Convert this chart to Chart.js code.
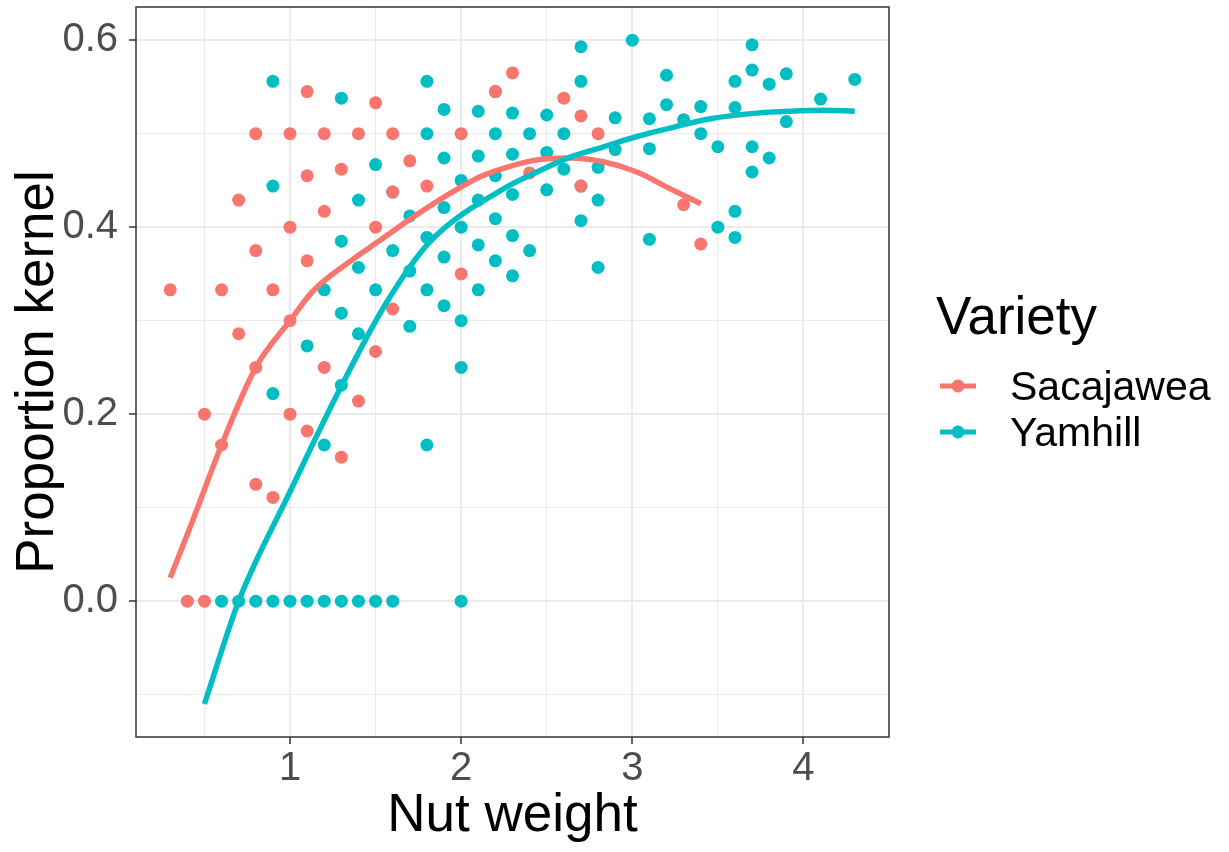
<!DOCTYPE html>
<html>
<head>
<meta charset="utf-8">
<script src="https://cdn.jsdelivr.net/npm/chart.js@4.4.1/dist/chart.umd.min.js"></script>
<style>
    body { margin: 0; background: #fff; }
    #wrap { width: 1229px; height: 852px; }
</style>
</head>
<body>
<div id="wrap"><canvas id="chart" width="1229" height="852"></canvas></div>
<script>
// Nut weight vs proportion kernel, two hazelnut varieties
const sacWeight = [0.3, 0.4, 0.5, 0.5, 0.6, 0.6, 0.7, 0.7, 0.8, 0.8, 0.8, 0.8, 0.9, 0.9,
    1.0, 1.0, 1.0, 1.0, 1.1, 1.1, 1.1, 1.1, 1.2, 1.2, 1.2, 1.3, 1.3, 1.4, 1.4,
    1.5, 1.5, 1.5, 1.6, 1.6, 1.6, 1.7, 1.8, 2.0, 2.0, 2.2, 2.3, 2.4, 2.6, 2.7, 2.7,
    2.8, 3.3, 3.4];
const sacKernel = [0.333, 0, 0, 0.2, 0.333, 0.167, 0.429, 0.286, 0.5, 0.375, 0.25, 0.125, 0.333, 0.111,
    0.5, 0.4, 0.3, 0.2, 0.545, 0.455, 0.364, 0.182, 0.5, 0.417, 0.25, 0.462, 0.154, 0.5, 0.214,
    0.533, 0.4, 0.267, 0.5, 0.4375, 0.3125, 0.471, 0.444, 0.5, 0.35, 0.545, 0.565, 0.458, 0.538, 0.519, 0.444,
    0.5, 0.424, 0.382];

const yamWeight = [0.6, 0.7, 0.8, 0.9, 1.0, 1.1, 1.2, 1.3, 1.4, 1.5, 1.6, 2.0,
    0.9, 0.9, 0.9, 1.1, 1.2, 1.2, 1.3, 1.3, 1.3, 1.3, 1.4, 1.4, 1.4, 1.5, 1.5, 1.6, 1.6,
    1.7, 1.7, 1.7, 1.8, 1.8, 1.8, 1.8, 1.8, 1.9, 1.9, 1.9, 1.9, 1.9,
    2.0, 2.0, 2.0, 2.0, 2.1, 2.1, 2.1, 2.1, 2.1, 2.2, 2.2, 2.2, 2.2, 2.2,
    2.3, 2.3, 2.3, 2.3, 2.3, 2.4, 2.4, 2.5, 2.5, 2.5, 2.6, 2.6, 2.7, 2.7, 2.7, 2.7,
    2.8, 2.8, 2.8, 2.9, 2.9, 3.0, 3.1, 3.1, 3.1, 3.2, 3.2, 3.3, 3.4, 3.4, 3.5, 3.5,
    3.6, 3.6, 3.6, 3.6, 3.7, 3.7, 3.7, 3.7, 3.8, 3.8, 3.9, 3.9, 4.1, 4.3];
const yamKernel = [0, 0, 0, 0, 0, 0, 0, 0, 0, 0, 0, 0,
    0.556, 0.444, 0.222, 0.273, 0.333, 0.167, 0.538, 0.385, 0.308, 0.231, 0.429, 0.357, 0.286, 0.467, 0.333, 0.4375, 0.375,
    0.412, 0.353, 0.294, 0.556, 0.5, 0.389, 0.333, 0.167, 0.526, 0.474, 0.421, 0.368, 0.316,
    0.45, 0.4, 0.3, 0.25, 0.524, 0.476, 0.429, 0.381, 0.333, 0.545, 0.5, 0.455, 0.409, 0.364,
    0.522, 0.478, 0.435, 0.391, 0.348, 0.5, 0.375, 0.52, 0.48, 0.44, 0.5, 0.462, 0.593, 0.556, 0.407, 0.444,
    0.464, 0.429, 0.357, 0.517, 0.483, 0.6, 0.516, 0.484, 0.387, 0.5625, 0.531, 0.515, 0.529, 0.5, 0.486, 0.4,
    0.556, 0.528, 0.417, 0.389, 0.595, 0.568, 0.486, 0.459, 0.553, 0.474, 0.564, 0.513, 0.537, 0.558];

// smoothed trend per variety
const sacFitX = [0.3, 0.435, 0.6, 0.8, 1.0, 1.136, 1.332, 1.526, 1.721, 1.916, 2.111, 2.247, 2.443, 2.637, 2.832, 3.027, 3.222, 3.4];
const sacFitY = [0.025, 0.088, 0.167, 0.25, 0.3, 0.332, 0.361, 0.386, 0.411, 0.434, 0.454, 0.463, 0.472, 0.474, 0.47, 0.459, 0.441, 0.425];
const yamFitX = [0.5, 0.7, 1.0, 1.3, 1.556, 1.81, 2.247, 2.443, 2.637, 2.832, 3.027, 3.222, 3.456, 3.729, 3.924, 4.119, 4.3];
const yamFitY = [-0.11, 0.0, 0.117, 0.23, 0.317, 0.383, 0.441, 0.459, 0.475, 0.486, 0.497, 0.506, 0.516, 0.522, 0.524, 0.525, 0.524];

const varieties = ['Sacajawea', 'Yamhill'];
const colors = ['#F8766D', '#00BFC4'];

const xMajor = [1, 2, 3, 4];
const xGrid = [0.5, 1, 1.5, 2, 2.5, 3, 3.5, 4];
const yMajor = [0, 0.2, 0.4, 0.6];
const yGrid = [-0.1, 0, 0.1, 0.2, 0.3, 0.4, 0.5, 0.6];

const FONT = '"Liberation Sans", Arial, sans-serif';
Chart.defaults.font.family = FONT;

const zip = (xs, ys) => xs.map((x, i) => ({ x, y: ys[i] }));
const isMajor = (v, list) => list.some(m => Math.abs(m - v) < 1e-6);

// panel border + legend on the right
const panelAndLegend = {
    id: 'panelAndLegend',
    afterDraw(chart) {
        const ctx = chart.ctx;
        const a = chart.chartArea;
        ctx.save();
        ctx.strokeStyle = '#333333';
        ctx.lineWidth = 1.5;
        ctx.strokeRect(a.left, a.top, a.right - a.left, a.bottom - a.top);

        ctx.fillStyle = '#000';
        ctx.textBaseline = 'alphabetic';
        ctx.font = '53px ' + FONT;
        ctx.fillText('Variety', 936, 334);

        ctx.font = '41px ' + FONT;
        varieties.forEach((name, i) => {
            const y = 386 + i * 46;
            ctx.strokeStyle = colors[i];
            ctx.lineWidth = 5;
            ctx.beginPath();
            ctx.moveTo(940, y);
            ctx.lineTo(976, y);
            ctx.stroke();
            ctx.fillStyle = colors[i];
            ctx.beginPath();
            ctx.arc(958, y, 6.5, 0, Math.PI * 2);
            ctx.fill();
            ctx.fillStyle = '#000';
            ctx.fillText(name, 1010, y + 14);
        });
        ctx.restore();
    }
};

const ctx = document.getElementById('chart').getContext('2d');
new Chart(ctx, {
    type: 'scatter',
    data: {
        datasets: [
            {
                label: varieties[1] + ' fit',
                data: zip(yamFitX, yamFitY),
                showLine: true,
                borderColor: colors[1],
                borderWidth: 5.5,
                pointRadius: 0,
                cubicInterpolationMode: 'monotone'
            },
            {
                label: varieties[0] + ' fit',
                data: zip(sacFitX, sacFitY),
                showLine: true,
                borderColor: colors[0],
                borderWidth: 5.5,
                pointRadius: 0,
                cubicInterpolationMode: 'monotone'
            },
            {
                label: varieties[0],
                data: zip(sacWeight, sacKernel),
                pointRadius: 6.5,
                pointBorderWidth: 0,
                pointBackgroundColor: colors[0],
                borderColor: colors[0]
            },
            {
                label: varieties[1],
                data: zip(yamWeight, yamKernel),
                pointRadius: 6.5,
                pointBorderWidth: 0,
                pointBackgroundColor: colors[1],
                borderColor: colors[1]
            }
        ]
    },
    options: {
        responsive: false,
        animation: false,
        events: [],
        layout: { padding: { top: 7, right: 340, bottom: 0, left: 0 } },
        plugins: {
            legend: { display: false },
            tooltip: { enabled: false }
        },
        scales: {
            x: {
                type: 'linear',
                min: 0.1,
                max: 4.5,
                afterBuildTicks: s => { s.ticks = xGrid.map(v => ({ value: v })); },
                afterFit: s => { s.height = 115; s.paddingLeft = 0; s.paddingRight = 0; },
                border: { display: false },
                grid: {
                    color: '#EBEBEB',
                    lineWidth: c => isMajor(c.tick.value, xMajor) ? 2 : 1,
                    tickLength: 7,
                    tickWidth: 1.5,
                    tickColor: c => isMajor(c.tick.value, xMajor) ? '#333333' : 'rgba(0,0,0,0)'
                },
                ticks: {
                    autoSkip: false,
                    maxRotation: 0,
                    padding: 1,
                    color: '#4D4D4D',
                    font: { size: 40 },
                    callback: v => isMajor(v, xMajor) ? String(v) : ''
                },
                title: {
                    display: true,
                    text: 'Nut weight',
                    color: '#000',
                    font: { size: 53 },
                    padding: { top: 0, bottom: 4 }
                }
            },
            y: {
                type: 'linear',
                min: -0.1453,
                max: 0.6355,
                afterBuildTicks: s => { s.ticks = yGrid.map(v => ({ value: v })); },
                afterFit: s => { s.width = 136; s.paddingTop = 0; s.paddingBottom = 0; },
                border: { display: false },
                grid: {
                    color: '#EBEBEB',
                    lineWidth: c => isMajor(c.tick.value, yMajor) ? 2 : 1,
                    tickLength: 7,
                    tickWidth: 1.5,
                    tickColor: c => isMajor(c.tick.value, yMajor) ? '#333333' : 'rgba(0,0,0,0)'
                },
                ticks: {
                    autoSkip: false,
                    padding: 11,
                    color: '#4D4D4D',
                    font: { size: 40 },
                    callback: v => isMajor(v, yMajor) ? v.toFixed(1) : ''
                },
                title: {
                    display: true,
                    text: 'Proportion kernel',
                    color: '#000',
                    font: { size: 53 },
                    padding: { top: 7, bottom: 0 }
                }
            }
        }
    },
    plugins: [panelAndLegend]
});
</script>
</body>
</html>
